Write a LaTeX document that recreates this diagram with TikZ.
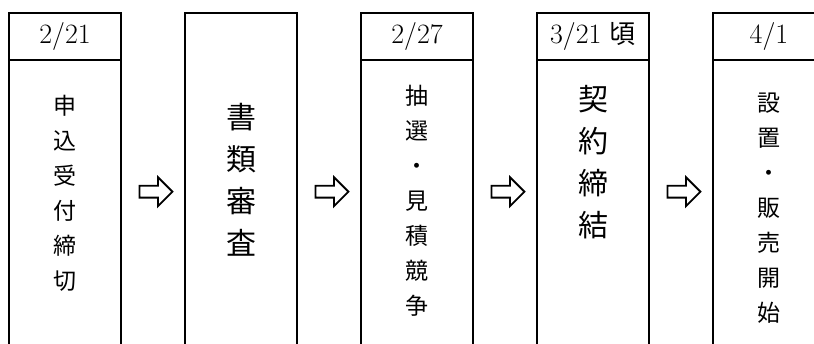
\documentclass[tikz,border=0pt]{standalone}
\usepackage{fontspec}
\newfontfamily\jpfont{Noto Sans CJK JP}
\usepackage{tikz}
\usetikzlibrary{positioning, shapes.arrows, calc}
\tikzstyle{datebox} = [rectangle, draw=black, line width=2pt, outer sep=0pt, inner sep=0pt, minimum width=112pt, minimum height=47.3pt, text centered, font=\fontsize{28}{28}\selectfont]
\tikzstyle{stepbox} = [rectangle, draw=black, line width=2pt, outer sep=0pt, inner sep=0pt, minimum width=112pt, minimum height=300pt]
\tikzstyle{steptext} = [align=center, anchor=north, inner sep=0pt, font=\jpfont\fontsize{23}{35}\selectfont]
\tikzstyle{bigtext} = [steptext, font=\jpfont\fontsize{30}{42}\selectfont]
\tikzstyle{nextarrow} = [single arrow, draw=black, line width=1.8pt, inner sep=5pt, minimum height=33pt, single arrow head extend=8.5pt]

\begin{document}
\begin{tikzpicture}[x=1pt, y=1pt, node distance=64pt]
                \useasboundingbox (0,0) rectangle (814,-343);
                \clip (0,0) rectangle (814,-343);
                \node (date1) [datebox, anchor=north west] at (9,-12.7) {2/21};
                \node (step1) [stepbox, below=0pt of date1] {};
                \node (step2) [stepbox, minimum height=347.3pt, below right=0pt and 64pt of date1.north east] {};
                \node (date3) [datebox, below right=0pt and 64pt of step2.north east] {2/27};
                \node (step3) [stepbox, below=0pt of date3] {};
                \node (date4) [datebox, below right=0pt and 64pt of date3.north east] {3/21 {\jpfont\fontsize{26}{26}\selectfont 頃}};
                \node (step4) [stepbox, below=0pt of date4] {};
                \node (date5) [datebox, below right=0pt and 64pt of date4.north east] {4/1};
                \node (step5) [stepbox, below=0pt of date5] {};
                \node (text1) [steptext, below=35pt of step1.north] {申\\込\\受\\付\\締\\切};
                \node (text2) [bigtext, below=90pt of step2.north] {書\\類\\審\\査};
                \node (text3) [steptext, below=25pt of step3.north] {抽\\選\\・\\見\\積\\競\\争};
                \node (text4) [bigtext, below=25pt of step4.north] {契\\約\\締\\結};
                \node (text5) [steptext, below=33pt of step5.north] {設\\置\\・\\販\\売\\開\\始};
                \node (go1) [nextarrow] at ($(date1.north east)!0.5!(step2.north west) + (0,-179)$) {};
                \node (go2) [nextarrow] at ($(step2.north east)!0.5!(date3.north west) + (0,-179)$) {};
                \node (go3) [nextarrow] at ($(date3.north east)!0.5!(date4.north west) + (0,-179)$) {};
                \node (go4) [nextarrow] at ($(date4.north east)!0.5!(date5.north west) + (0,-179)$) {};
            \end{tikzpicture}
\end{document}
